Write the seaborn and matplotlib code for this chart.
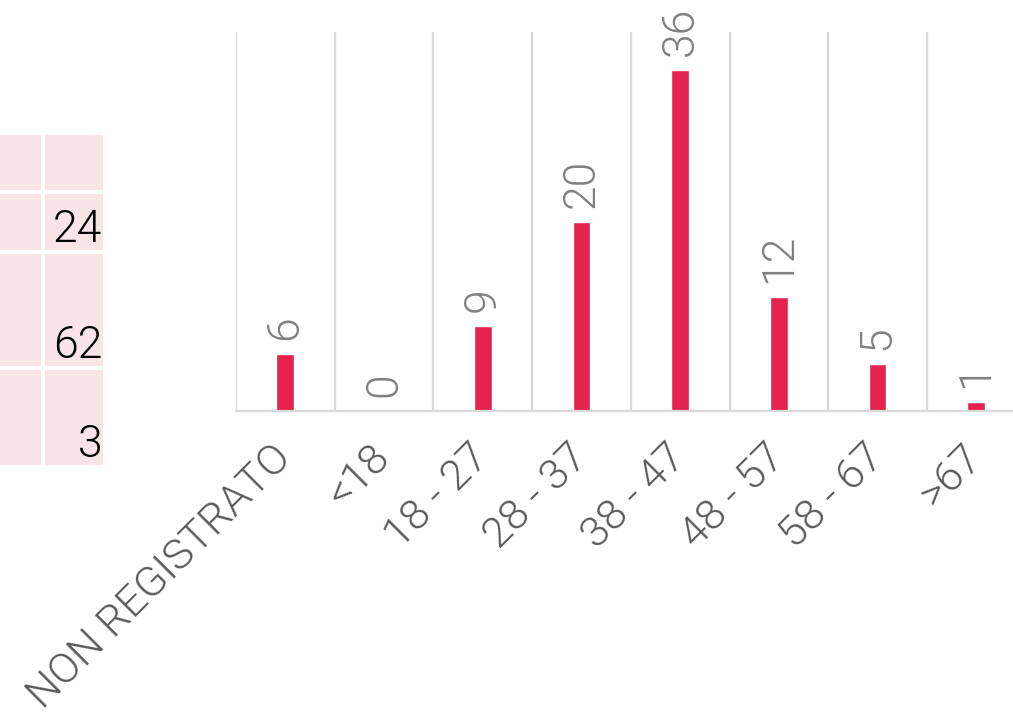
import matplotlib
matplotlib.use("Agg")
import matplotlib.pyplot as plt
from matplotlib.patches import Rectangle
import seaborn as sns
import pandas as pd

categories = ["NON REGISTRATO", "<18", "18 - 27", "28 - 37", "38 - 47", "48 - 57", "58 - 67", ">67"]
counts = [6, 0, 9, 20, 36, 12, 5, 1]
table_values = ["", "24", "62", "3"]

sns.set_theme(style="white")
plt.rcParams["font.family"] = ["Roboto", "DejaVu Sans"]

W, H = 1013, 716
fig = plt.figure(figsize=(W / 100, H / 100), dpi=100)

# axes geometry (pixels)
left_px, base_px, top_px, cat_w = 236, 411, 32, 98.7
ax = fig.add_axes([left_px / W, (H - base_px) / H, cat_w * len(categories) / W, (base_px - top_px) / H])

df = pd.DataFrame({"cat": categories, "n": counts})
sns.barplot(data=df, x="cat", y="n", color="#E6224F", width=0.18, saturation=1, ax=ax)

ax.set_xlim(-0.5, len(categories) - 0.5)
ax.set_ylim(0, 40)
ax.set_yticks([])
ax.set_xlabel("")
ax.set_ylabel("")
for s in ax.spines.values():
    s.set_visible(False)
ax.axhline(0, color="#d9d9d9", lw=1.6, zorder=1, clip_on=False)
ax.set_xticks([i - 0.5 for i in range(len(categories) + 1)], minor=True)
ax.grid(which="minor", axis="x", color="#d9d9d9", lw=1.6)
ax.tick_params(axis="x", which="both", length=0)
ax.set_xticks(range(len(categories)))
ax.set_xticklabels(categories, rotation=45, ha="right", va="center",
                   rotation_mode="anchor", fontsize=31, color="#595959",
                   fontweight=300)
ax.tick_params(axis="x", pad=29)

for i, v in enumerate(counts):
    ax.annotate(str(v), (i, v), xytext=(0, 10), textcoords="offset points",
                rotation=90, ha="center", va="bottom", fontsize=32, color="#808080",
                fontweight=300)

# left side table fragment
cell_fc = "#F9E5E6"
rows = [(135, 190), (194, 250), (254, 366), (370, 465)]
cols = [(0, 41), (45, 103)]
for (y0, y1), val in zip(rows, table_values):
    for (x0, x1) in cols:
        fig.patches.append(Rectangle((x0 / W, 1 - y1 / H), (x1 - x0) / W, (y1 - y0) / H,
                                     transform=fig.transFigure, facecolor=cell_fc,
                                     edgecolor="none", zorder=0))
    if val:
        fig.text(102 / W, 1 - (y1 - 8) / H, val, ha="right", va="baseline",
                 fontsize=32, color="black", fontweight=300)

fig.savefig("out.png", dpi=100)
